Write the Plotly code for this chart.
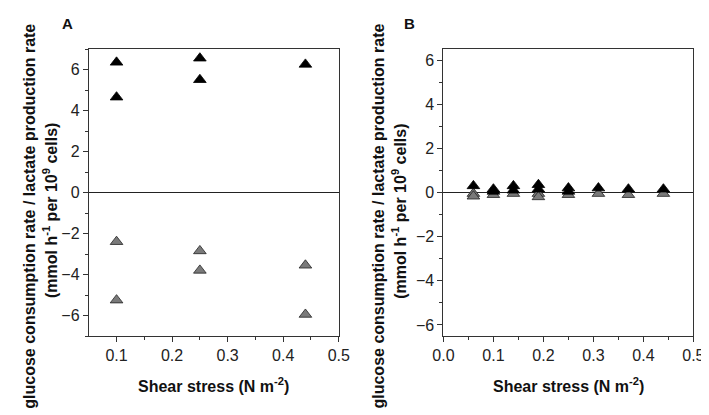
import plotly.graph_objects as go

# Panel A data
a_x_glc = [0.10, 0.10, 0.25, 0.25, 0.44]
a_y_glc = [6.35, 4.65, 6.55, 5.5, 6.25]
a_x_lac = [0.10, 0.10, 0.25, 0.25, 0.44, 0.44]
a_y_lac = [-2.4, -5.25, -2.85, -3.8, -3.55, -5.95]

# Panel B data
b_x_glc = [0.06, 0.10, 0.10, 0.14, 0.14, 0.19, 0.19, 0.25, 0.25, 0.31, 0.37, 0.44]
b_y_glc = [0.30, 0.15, 0.05, 0.30, 0.10, 0.35, 0.15, 0.20, 0.05, 0.20, 0.15, 0.15]
b_x_lac = [0.06, 0.06, 0.10, 0.14, 0.19, 0.19, 0.25, 0.31, 0.37, 0.44]
b_y_lac = [-0.05, -0.17, -0.10, -0.05, -0.05, -0.20, -0.10, -0.05, -0.10, -0.05]

FONT = "Liberation Sans, Arial, sans-serif"
W, H = 709, 415

fig = go.Figure()
mk_black = dict(symbol="triangle-up", size=11, color="black", line=dict(color="black", width=0.8))
mk_gray = dict(symbol="triangle-up", size=11, color="#7a7a7a", line=dict(color="#222222", width=0.8))

fig.add_trace(go.Scatter(x=a_x_glc, y=a_y_glc, mode="markers", marker=mk_black, xaxis="x", yaxis="y", showlegend=False))
fig.add_trace(go.Scatter(x=a_x_lac, y=a_y_lac, mode="markers", marker=mk_gray, xaxis="x", yaxis="y", showlegend=False))
fig.add_trace(go.Scatter(x=b_x_lac, y=b_y_lac, mode="markers", marker=mk_gray, xaxis="x2", yaxis="y2", showlegend=False))
fig.add_trace(go.Scatter(x=b_x_glc, y=b_y_glc, mode="markers", marker=mk_black, xaxis="x2", yaxis="y2", showlegend=False))

ydom = [1 - 328 / H, 1 - 41 / H]


def minor(vals):
    return dict(ticks="outside", ticklen=3, tickwidth=1, tickcolor="#333333", tickvals=vals)


axis_common = dict(
    showgrid=False, showline=True, linecolor="#333333", linewidth=1, mirror=True,
    ticks="outside", ticklen=5, tickwidth=1, tickcolor="#333333",
    tickfont=dict(family=FONT, size=16, color="#222222"),
)

fig.update_layout(
    width=W, height=H,
    margin=dict(l=0, r=0, t=0, b=0),
    plot_bgcolor="white", paper_bgcolor="white",
    xaxis=dict(domain=[72 / W, 330 / W], range=[0.05, 0.5], tickvals=[0.1, 0.2, 0.3, 0.4, 0.5],
               ticktext=["0.1", "0.2", "0.3", "0.4", "0.5"], zeroline=False,
               anchor="y", minor=minor([0.15, 0.25, 0.35, 0.45]), **axis_common),
    yaxis=dict(domain=ydom, range=[-7, 7], tickvals=[-6, -4, -2, 0, 2, 4, 6], zeroline=True,
               zerolinecolor="#222222", zerolinewidth=1, anchor="x",
               minor=minor([-7, -5, -3, -1, 1, 3, 5, 7]), **axis_common),
    xaxis2=dict(domain=[438 / W, 696 / W], range=[0, 0.5], tickvals=[0, 0.1, 0.2, 0.3, 0.4, 0.5],
                ticktext=["0.0", "0.1", "0.2", "0.3", "0.4", "0.5"], zeroline=False,
                anchor="y2", minor=minor([0.05, 0.15, 0.25, 0.35, 0.45]), **axis_common),
    yaxis2=dict(domain=ydom, range=[-6.5, 6.5], tickvals=[-6, -4, -2, 0, 2, 4, 6], zeroline=True,
                zerolinecolor="#222222", zerolinewidth=1, anchor="x2",
                minor=minor([-5, -3, -1, 1, 3, 5]), **axis_common),
)

tfont = dict(family=FONT, size=16, color="#111111")
ann = []
line1 = "<b>glucose consumption rate / lactate production rate</b>"
line2 = "<b>(mmol h<sup>-1</sup> per 10<sup>9</sup> cells)</b>"
for x1, x2 in [(10, 32), (370, 392)]:
    ann.append(dict(text=line1, x=x1 / W, y=1 - 208 / H, xref="paper", yref="paper", textangle=-90,
                    showarrow=False, xanchor="center", yanchor="middle", font=tfont))
    ann.append(dict(text=line2, x=x2 / W, y=1 - 203 / H, xref="paper", yref="paper", textangle=-90,
                    showarrow=False, xanchor="center", yanchor="middle", font=tfont))
for xc in [201, 567]:
    ann.append(dict(text="<b>Shear stress (N m<sup>-2</sup>)</b>", x=xc / W, y=1 - 377 / H, xref="paper", yref="paper",
                    showarrow=False, xanchor="center", yanchor="middle", font=tfont))
for lbl, xc in [("A", 50), ("B", 403)]:
    ann.append(dict(text="<b>" + lbl + "</b>", x=xc / W, y=1 - 15 / H, xref="paper", yref="paper",
                    showarrow=False, xanchor="center", yanchor="middle", font=dict(family=FONT, size=15, color="#111111")))
fig.update_layout(annotations=ann)

fig.write_html("out.html")
